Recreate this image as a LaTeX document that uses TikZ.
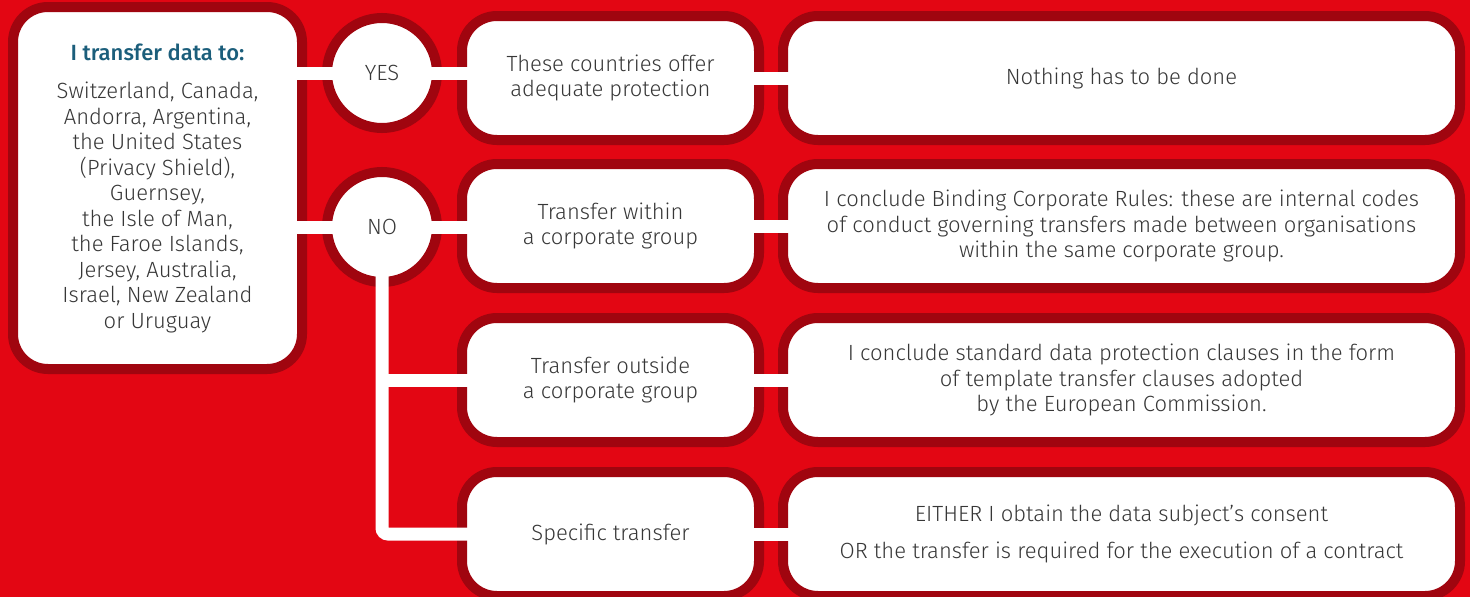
\documentclass[tikz,border=0pt]{standalone}
\usepackage{fontspec}
\setmainfont{Fira Sans}[UprightFont=* Light, BoldFont=* Medium]
\usetikzlibrary{positioning}
\definecolor{dpRed}{RGB}{227,6,19}
\definecolor{dpDark}{RGB}{160,5,15}
\definecolor{dpText}{RGB}{55,55,55}
\definecolor{dpTeal}{RGB}{27,94,123}

\begin{document}
\begin{tikzpicture}[
    x=1pt, y=-1pt,
    font=\fontsize{22}{25.5}\selectfont, text=dpText,
    box/.style={draw=dpDark, line width=10pt, fill=white, rounded corners=35pt,
                align=center, minimum height=124pt, inner sep=0pt, outer sep=0pt},
    midbox/.style={box, minimum width=297pt},
    widebox/.style={box, minimum width=677pt},
    answer/.style={circle, draw=dpDark, line width=10pt, fill=white,
                   minimum size=110pt, inner sep=0pt, outer sep=0pt},
    link/.style={draw=white, line width=13pt,
                 shorten <=-7pt, shorten >=-7pt}
]
% --- Red page.
\fill[dpRed] (0,0) rectangle (1470,597);
\useasboundingbox (0,0) rectangle (1470,597);

% --- Left: the list of countries.
\node[box, minimum width=289pt, minimum height=362pt] (dest) at (157.5,188) {%
    \textbf{\color{dpTeal}I transfer data to:}\\[13pt]
    Switzerland, Canada,\\ Andorra, Argentina,\\ the United States\\
    (Privacy Shield),\\ Guernsey,\\ the Isle of Man,\\ the Faroe Islands,\\
    Jersey, Australia,\\ Israel, New Zealand\\ or Uruguay};

% --- Answers.
\node[answer] (yes) at (382,73)  {YES};
\node[answer] (no)  at (382,227) {NO};

% --- Middle column: kind of transfer.
\node[midbox] (adeq)    at (610.5,78)  {These countries offer\\adequate protection};
\node[midbox] (within)  at (610.5,226) {Transfer within\\a corporate group};
\node[midbox] (outside) at (610.5,380) {Transfer outside\\a corporate group};
\node[midbox] (special) at (610.5,534) {Specific transfer};

% --- Right column: what I have to do.
\node[widebox] (nothing) at (1121.5,78)  {Nothing has to be done};
\node[widebox] (bcr)     at (1121.5,226) {I conclude Binding Corporate Rules: these are internal codes\\
    of conduct governing transfers made between organisations\\
    within the same corporate group.};
\node[widebox] (scc)     at (1121.5,380) {I conclude standard data protection clauses in the form\\
    of template transfer clauses adopted\\ by the European Commission.};
\node[widebox] (consent) at (1121.5,534) {EITHER I obtain the data subject’s consent\\[11pt]
    OR the transfer is required for the execution of a contract};

% --- White links, drawn over the borders.
\draw[link] (yes.west -| dest.east) -- (yes.west);
\draw[link] (no.west -| dest.east)  -- (no.west);
\draw[link] (yes.east) -- (yes.east -| adeq.west);
\draw[link] (no.east)  -- (no.east -| within.west);
\draw[link] (adeq.east)    -- (nothing.west);
\draw[link] (within.east)  -- (bcr.west);
\draw[link] (outside.east) -- (scc.west);
\draw[link] (special.east) -- (consent.west);

% --- NO branch down to the other two cases.
\draw[link, rounded corners=6pt] (no.south) -- (no.south |- special.west) -- (special.west);
\draw[link, shorten <=0pt] (no.south |- outside.west) -- (outside.west);

\end{tikzpicture}
\end{document}
